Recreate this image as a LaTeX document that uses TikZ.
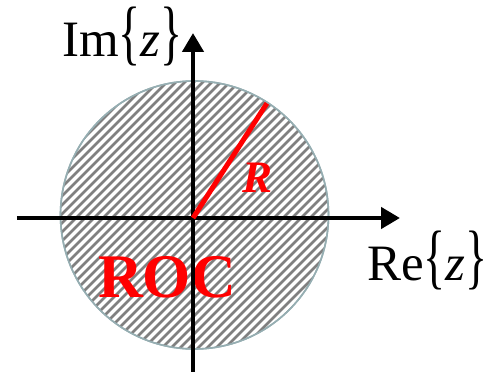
\documentclass[tikz,border=0pt]{standalone}
\usepackage{fontspec}
\setmainfont{Liberation Serif}[
  UprightFont={Liberation Serif},
  BoldFont={Liberation Serif Bold},
  ItalicFont={Liberation Serif Italic},
  BoldItalicFont={Liberation Serif Bold Italic}]
\usepackage{graphicx}
\usepackage{tikz}
\usetikzlibrary{arrows.meta}
\definecolor{hatchgray}{RGB}{128,128,128}
\definecolor{rimgray}{RGB}{150,174,178}
\definecolor{rocred}{RGB}{255,0,0}
\newcommand{\tallbrace}[1]{\scalebox{0.9}[1.4]{#1}}
\tikzset{
  axis/.style={line width=4.5pt, -{Triangle[length=19pt, width=21pt]}},
  rocdisk/.style={draw=rimgray, line width=1.6pt, circle, minimum size=268pt, inner sep=0pt},
  hatchline/.style={draw=hatchgray, line width=2.8pt},
  radiusline/.style={draw=rocred, line width=5pt},
  axislabel/.style={inner sep=0pt, anchor=base west, font=\fontsize{51}{60}\selectfont},
  redlabel/.style={inner sep=0pt, anchor=base west, text=rocred}
}

\begin{document}
\begin{tikzpicture}[x=1pt, y=1pt]
\useasboundingbox (-193,-154) rectangle (300,218);

% region of convergence
\node[rocdisk] (roc) at (1.5,3) {};
\begin{scope}
  \clip (roc.center) circle (134pt);
  \foreach \c in {-288,-279,...,288}
    \draw[hatchline] (\c-145,-145) -- (\c+145,145);
\end{scope}
\node[rocdisk] at (roc.center) {};
\node[redlabel, font=\bfseries\fontsize{62}{70}\selectfont] (roclabel) at (-95,-79) {ROC};

% axes
\coordinate (o) at (0,0);
\coordinate (xl) at (-176,0);
\coordinate (xr) at (207,0);
\coordinate (yb) at (0,-160);
\coordinate (yt) at (0,185);
\draw[axis] (xl) -- (xr);
\draw[axis] (yb) -- (yt);

% radius
\coordinate (rim) at (57.2:136.5);
\draw[radiusline] (o) -- (rim);
\node[redlabel, font=\bfseries\itshape\fontsize{45}{54}\selectfont] (rlabel) at (49,25) {R};

% axis labels
\node[axislabel] (im) at (-131,161) {Im\tallbrace{\{}\textit{z}\tallbrace{\}}};
\node[axislabel] (re) at (174,-62) {Re\tallbrace{\{}\textit{z}\tallbrace{\}}};
\end{tikzpicture}
\end{document}
